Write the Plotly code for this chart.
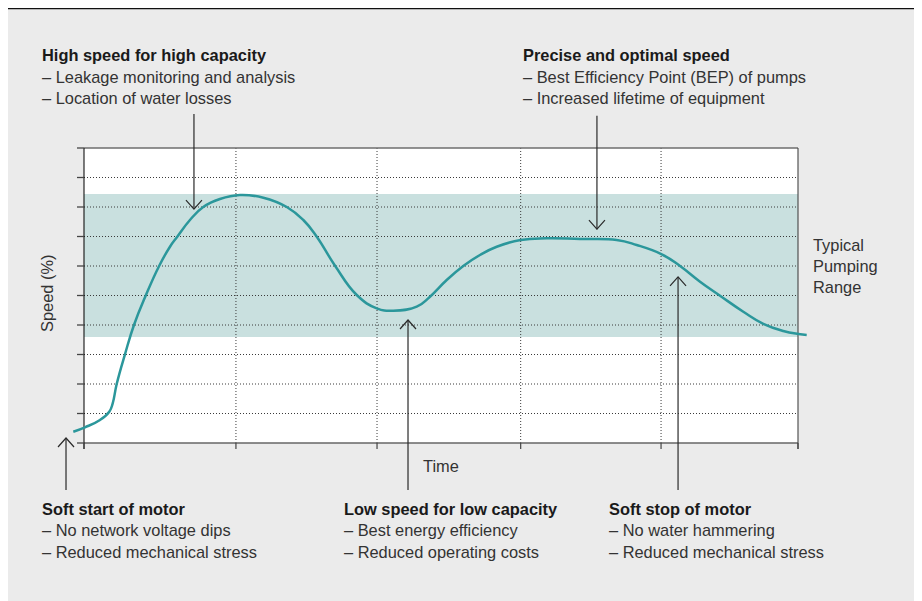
import plotly.graph_objects as go

# ---------------- data ----------------
time = [-0.075, 0.007, 0.112, 0.177, 0.201, 0.229, 0.287, 0.350, 0.434, 0.527,
        0.602, 0.653, 0.742, 0.835, 0.952, 1.092, 1.256, 1.420, 1.536, 1.630,
        1.758, 1.910, 2.050, 2.166, 2.330, 2.423, 2.540, 2.656, 2.773,
        2.890, 3.058, 3.240, 3.473, 3.730, 3.870, 4.046, 4.174, 4.314, 4.454,
        4.617, 4.757, 4.897, 5.002, 5.061]
speed = [0.383, 0.532, 0.780, 1.061, 1.346, 2.000, 3.007, 4.000, 5.017, 6.010,
         6.654, 6.993, 7.559, 8.000, 8.271, 8.407, 8.315, 8.000, 7.559, 6.993,
         6.010, 5.017, 4.566, 4.485, 4.620, 4.959, 5.525, 6.000, 6.373,
         6.654, 6.881, 6.939, 6.915, 6.881, 6.712, 6.397, 6.000, 5.468, 4.993,
         4.451, 4.040, 3.797, 3.695, 3.661]

x_ticks = [0, 1.064, 2.052, 3.058, 4.041, 5]
y_ticks = [0, 1, 2, 3, 4, 5, 6, 7, 8, 9, 10]
band_low, band_high = 3.59, 8.44
band_label = ["Typical", "Pumping", "Range"]

blocks_top = [
    ("High speed for high capacity",
     ["– Leakage monitoring and analysis", "– Location of water losses"]),
    ("Precise and optimal speed",
     ["– Best Efficiency Point (BEP) of pumps", "– Increased lifetime of equipment"]),
]
blocks_bottom = [
    ("Soft start of motor",
     ["– No network voltage dips", "– Reduced mechanical stress"]),
    ("Low speed for low capacity",
     ["– Best energy efficiency", "– Reduced operating costs"]),
    ("Soft stop of motor",
     ["– No water hammering", "– Reduced mechanical stress"]),
]

# arrows: x position, tip, tail (data units)
arrow_x = [0.770, 3.592, -0.126, 2.269, 4.160]
arrow_tip = [7.93, 7.25, 0.17, 4.17, 5.63]
arrow_tail = [11.15, 11.09, -1.59, -1.59, -1.59]

# ---------------- layout geometry ----------------
OFF = 8                      # page body margin
W, H = 922 - OFF, 601 - OFF  # figure size
X0_PX, X5_PX = 84 - OFF, 798 - OFF
Y0_PX, Y10_PX = 443 - OFF, 148 - OFF
x_scale = (X5_PX - X0_PX) / 5.0
y_scale = (Y0_PX - Y10_PX) / 10.0
x_range = [(0 - X0_PX) / x_scale, (W - X0_PX) / x_scale]
y_range = [(Y0_PX - H) / y_scale, Y0_PX / y_scale]


def dx(p):
    return p / x_scale


def dy(p):
    return p / y_scale


FONT = "Liberation Sans, Arial, Helvetica, sans-serif"
TEAL = "#2b979b"
BAND = "#c9e0df"
GRAY_BG = "#ebebeb"
TXT = "#333333"
BOLD = "#1a1a1a"
FS = 16.4

fig = go.Figure()
fig.add_trace(go.Scatter(x=time, y=speed, mode="lines",
                         line=dict(color=TEAL, width=2.5, shape="spline", smoothing=1.3),
                         hoverinfo="skip", showlegend=False))

shapes = []
# top rule
shapes.append(dict(type="line", xref="paper", yref="paper", x0=0, x1=1,
                   y0=1 - 0.6 / H, y1=1 - 0.6 / H, line=dict(color="#111111", width=1.3),
                   layer="below"))
# white chart box
shapes.append(dict(type="rect", x0=x_ticks[0], x1=x_ticks[-1], y0=y_ticks[0], y1=y_ticks[-1],
                   fillcolor="white", line=dict(width=0), layer="below"))
# typical pumping band
shapes.append(dict(type="rect", x0=x_ticks[0], x1=x_ticks[-1], y0=band_low, y1=band_high,
                   fillcolor=BAND, line=dict(width=0), layer="below"))
# dotted grid
for yv in y_ticks[1:-1]:
    shapes.append(dict(type="line", x0=x_ticks[0], x1=x_ticks[-1], y0=yv, y1=yv,
                       line=dict(color="#3a3a3a", width=1, dash="1px,2px"), layer="below"))
for xv in x_ticks[1:-1]:
    shapes.append(dict(type="line", x0=xv, x1=xv, y0=y_ticks[0], y1=y_ticks[-1],
                       line=dict(color="#3a3a3a", width=1, dash="1px,2px"), layer="below"))
# frame
shapes.append(dict(type="line", x0=x_ticks[0], x1=x_ticks[-1], y0=y_ticks[-1], y1=y_ticks[-1],
                   line=dict(color="#6e6e6e", width=1.6), layer="below"))
shapes.append(dict(type="line", x0=x_ticks[0], x1=x_ticks[-1], y0=y_ticks[0], y1=y_ticks[0],
                   line=dict(color="#666666", width=1.6), layer="below"))
shapes.append(dict(type="line", x0=x_ticks[0], x1=x_ticks[0], y0=-dy(6), y1=y_ticks[-1],
                   line=dict(color="#111111", width=1.1), layer="below"))
shapes.append(dict(type="line", x0=x_ticks[-1], x1=x_ticks[-1], y0=-dy(6), y1=y_ticks[-1],
                   line=dict(color="#444444", width=1.1), layer="below"))
# ticks
for yv in y_ticks:
    shapes.append(dict(type="line", x0=-dx(7), x1=0, y0=yv, y1=yv,
                       line=dict(color="#444444", width=1.3), layer="below"))
for xv in x_ticks:
    shapes.append(dict(type="line", x0=xv, x1=xv, y0=0, y1=-dy(6),
                       line=dict(color="#444444", width=1.2), layer="below"))
# arrows
ah_w, ah_h = dx(8), dy(9)
for xa, tip, tail in zip(arrow_x, arrow_tip, arrow_tail):
    sgn = 1 if tail > tip else -1
    shapes.append(dict(type="line", x0=xa, x1=xa, y0=tail, y1=tip,
                       line=dict(color="#2a2a2a", width=1.2), layer="above"))
    path = "M {a},{b} L {c},{d} L {e},{f}".format(
        a=xa - ah_w, b=tip + sgn * ah_h, c=xa, d=tip, e=xa + ah_w, f=tip + sgn * ah_h)
    shapes.append(dict(type="path", path=path, line=dict(color="#2a2a2a", width=1.2),
                       layer="above"))

annotations = []


def txt(px, py, text, color=TXT, size=FS, bold=False, xanchor="left", angle=0):
    # px, py are page pixel positions
    annotations.append(dict(
        xref="paper", yref="paper", x=(px - OFF) / W, y=1 - (py - OFF) / H,
        text=("<b>%s</b>" % text) if bold else text, showarrow=False,
        xanchor=xanchor, yanchor="middle", textangle=angle,
        font=dict(family=FONT, size=size, color=BOLD if bold else color)))


top_x = [40, 521]
for (title, lines), bx in zip(blocks_top, top_x):
    txt(bx, 55, title, bold=True)
    for i, ln in enumerate(lines):
        txt(bx, 77 + 21.3 * i, ln)

bot_x = [40, 342, 607]
for (title, lines), bx in zip(blocks_bottom, bot_x):
    txt(bx, 508.5, title, bold=True)
    for i, ln in enumerate(lines):
        txt(bx, 530.3 + 21.6 * i, ln)

for i, ln in enumerate(band_label):
    txt(811, 245 + 21 * i, ln)

txt(441, 465.5, "Time", xanchor="center")
txt(47, 294, "Speed (%)", xanchor="center", angle=-90)

fig.update_layout(
    width=W, height=H, autosize=False,
    margin=dict(l=0, r=0, t=0, b=0, pad=0),
    paper_bgcolor=GRAY_BG, plot_bgcolor="rgba(0,0,0,0)",
    xaxis=dict(range=x_range, visible=False, fixedrange=True),
    yaxis=dict(range=y_range, visible=False, fixedrange=True),
    shapes=shapes, annotations=annotations, showlegend=False,
)

fig.write_html("out.html")
